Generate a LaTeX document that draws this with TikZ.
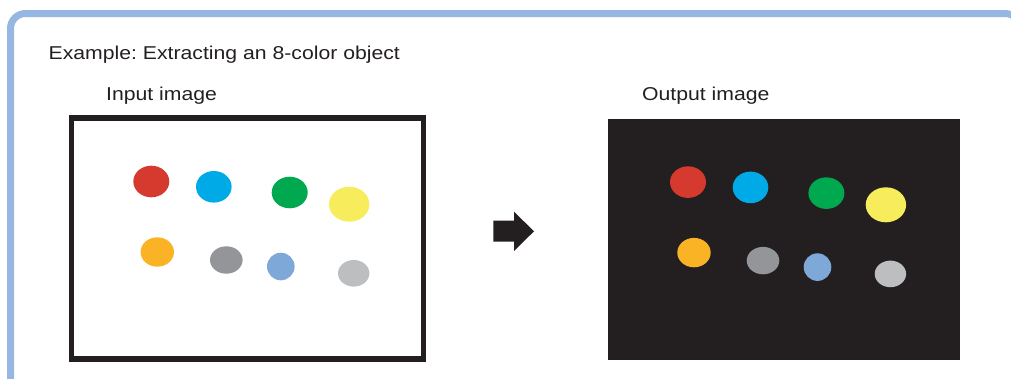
\documentclass[tikz,border=0pt]{standalone}
\usepackage{fontspec}
\setmainfont[FakeStretch=1.14]{Liberation Sans}
\usetikzlibrary{shapes.geometric}
\frenchspacing
\definecolor{ink}{HTML}{231F20}
\definecolor{framecol}{HTML}{95B7E1}
\definecolor{cred}{HTML}{D63A2F}
\definecolor{cblue}{HTML}{00AAE7}
\definecolor{cgreen}{HTML}{00A84F}
\definecolor{cyellow}{HTML}{F7EC5C}
\definecolor{corange}{HTML}{FBB326}
\definecolor{cgray}{HTML}{939598}
\definecolor{clblue}{HTML}{7EA8D8}
\definecolor{clgray}{HTML}{BCBEC0}
\tikzset{
  label text/.style={anchor=base west, inner sep=0pt, text=ink, font=\fontsize{18.6}{22}\selectfont\frenchspacing},
  spot/.style={ellipse, draw=none, inner sep=0pt},
  imgbox/.style={rectangle, inner sep=0pt, minimum width=352pt},
}
\begin{document}
\begin{tikzpicture}[x=1pt,y=-1pt]
\useasboundingbox (0,0) rectangle (1011,378);
\clip (0,0) rectangle (1011,378);
% outer frame
\draw[framecol, line width=7pt, rounded corners=15pt] (10.5,13.5) rectangle (1020,395);
% texts
\node[label text] (title) at (48.5,59.5) {Example: Extracting an 8-color object};
\node[label text] (inlabel) at (106,100) {Input image};
\node[label text] (outlabel) at (642,100.5) {Output image};
% image boxes
\node[imgbox, draw=ink, line width=5.5pt, minimum height=241pt] (inimg) at (247.5,238.5) {};
\node[imgbox, fill=ink, minimum height=241pt] (outimg) at (784,239.5) {};
% spots
\foreach \nm/\cx/\cy/\rx/\ry/\col in {
  red/151.3/181.5/18/15.8/cred,
  blue/213.8/186.8/17.8/15.8/cblue,
  green/289.7/192.5/18/15.8/cgreen,
  yellow/349.2/204.2/20.2/17.5/cyellow,
  orange/157.3/252/16.7/14.7/corange,
  gray/226.3/260/16.3/13.7/cgray,
  lblue/280.8/266.5/13.8/13.8/clblue,
  lgray/353.7/273.3/15.7/13.3/clgray}{
  \node[spot, fill=\col, minimum width=2*\rx pt, minimum height=2*\ry pt] (in-\nm) at (\cx,\cy) {};
  \node[spot, fill=\col, minimum width=2*\rx pt, minimum height=2*\ry pt] (out-\nm) at (\cx+536.7,\cy+0.6) {};
}
% block arrow
\fill[ink] (493.3,220.7) -- (514,220.7) -- (514,211.7) -- (534,231.3) -- (514,251) -- (514,241.7) -- (493.3,241.7) -- cycle;
\end{tikzpicture}
\end{document}
